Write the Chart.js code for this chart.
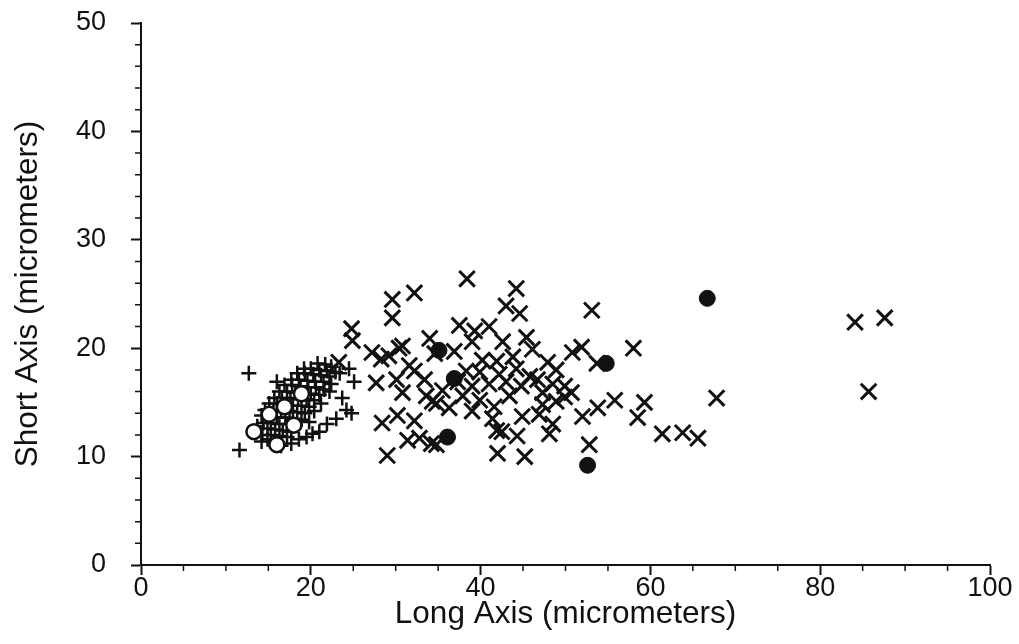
<!DOCTYPE html>
<html>
<head>
<meta charset="utf-8">
<script src="https://cdn.jsdelivr.net/npm/chart.js@4"></script>
<style>
  html, body { margin: 0; padding: 0; background: #ffffff; }
  #wrap { width: 1019px; height: 644px; }
</style>
</head>
<body>
<div id="wrap"><canvas id="c" width="1019" height="644"></canvas></div>
<script>
// ---- Data (micrometers) ----
const crossX = [38.4,32.2,29.6,29.6,44.2,43.0,44.6,53.1,24.8,24.9,23.3,27.2,28.3,29.2,30.4,30.8,31.6,27.7,30.1,30.8,
  32.2,33.4,33.6,34.3,28.4,30.2,32.2,31.4,32.8,34.2,29.0,34.0,34.6,37.5,39.3,41.0,39.0,42.6,45.4,46.1,
  36.9,40.2,41.9,43.8,47.9,48.9,38.3,39.9,42.2,44.2,45.8,46.7,37.3,39.0,41.0,43.0,44.8,48.5,49.9,35.5,
  37.9,39.9,43.4,47.3,34.8,36.3,39.0,41.6,47.3,48.9,41.4,44.9,46.9,48.5,41.9,42.5,44.3,48.1,34.8,42.0,
  45.2,50.8,51.9,53.7,58.0,67.8,50.7,49.9,55.8,53.8,52.0,59.3,58.5,61.4,63.8,65.6,52.8,84.1,87.6,85.7];
const crossY = [26.4,25.1,24.5,22.8,25.5,23.9,23.2,23.5,21.8,20.7,18.7,19.6,19.0,19.3,20.0,20.2,18.4,16.8,17.1,15.9,
  17.9,17.1,15.6,15.1,13.1,13.8,13.3,11.5,11.7,11.2,10.1,20.9,19.5,22.1,21.6,22.0,20.6,20.6,21.0,19.9,
  19.7,18.9,18.8,19.2,18.7,18.0,17.9,17.8,17.6,18.1,17.4,17.1,16.9,16.5,16.7,16.9,16.5,16.7,16.5,16.1,
  15.6,15.2,15.6,15.9,14.9,14.5,14.2,14.6,14.8,15.1,13.5,13.7,13.9,13.0,12.4,12.3,11.9,12.1,11.1,10.3,
  10.0,19.6,20.1,18.6,20.0,15.4,15.9,15.5,15.2,14.5,13.7,15.0,13.6,12.1,12.2,11.7,11.1,22.4,22.8,16.0];

const plusX = [12.7,11.6,25.1,24.5,23.7,24.2,24.8,23.0,21.9,21.0,20.2,19.5,18.6,17.7,16.5,14.9,14.3,
  20.8,21.7,22.4,19.2,20.0,21.0,21.9,22.9,18.4,19.3,20.3,21.2,22.2,23.4,17.7,18.6,19.6,20.5,21.5,22.4,
  16.9,17.8,18.8,19.7,20.6,21.6,16.3,17.2,18.2,19.1,20.0,21.0,22.2,15.7,16.6,17.6,18.5,19.5,20.4,
  15.1,16.0,17.0,17.9,18.9,19.8,21.2,14.6,15.6,16.5,17.5,18.4,19.3,20.4,14.2,15.1,16.0,17.0,17.9,18.9,
  14.4,15.3,16.3,17.2,18.2,19.8,14.9,15.8,16.7,17.7,15.3,16.3,17.2,16.0,13.7,14.2];
const plusY = [17.7,10.6,16.9,18.1,15.4,14.3,14.0,13.5,13.0,12.3,12.1,11.8,11.6,11.2,11.0,11.6,12.0,
  18.6,18.5,18.3,18.1,18.1,18.0,17.9,17.8,17.7,17.7,17.6,17.5,17.4,17.7,17.1,17.1,17.0,16.9,16.9,16.7,
  16.6,16.6,16.5,16.4,16.4,16.2,16.0,16.0,15.9,15.8,15.8,15.7,16.0,15.4,15.4,15.4,15.3,15.3,15.2,
  14.9,14.9,14.8,14.7,14.7,14.6,14.9,14.3,14.2,14.2,14.2,14.1,14.0,14.2,13.8,13.7,13.6,13.6,13.5,13.4,
  13.1,13.1,13.0,13.0,12.9,13.2,12.6,12.5,12.4,12.3,12.0,11.9,11.8,16.9,12.8,11.4];

const filledX = [35.1,36.9,36.1,54.8,66.7,52.6];
const filledY = [19.8,17.2,11.8,18.6,24.6,9.2];

const openX = [18.9,16.9,15.1,18.0,13.3,16.0];
const openY = [15.8,14.6,13.9,12.9,12.3,11.1];

const xTickStep = 20, xMinorStep = 5;
const yTickStep = 10, yMinorStep = 2;
const xTitle = 'Long Axis (micrometers)';
const yTitle = 'Short Axis (micrometers)';

const pts = (xs, ys) => xs.map((v, i) => ({ x: v, y: ys[i] }));

const INK = '#111111';
const FONT = "'Liberation Sans', Arial, Helvetica, sans-serif";

const minorTicks = {
  id: 'minorTicks',
  afterDraw(chart) {
    const { ctx, chartArea: a, scales: { x, y } } = chart;
    ctx.save();
    ctx.strokeStyle = INK;
    ctx.lineWidth = 1.5;
    ctx.beginPath();
    for (let v = x.min; v <= x.max; v += xMinorStep) {
      if (v % xTickStep === 0) continue;
      const px = x.getPixelForValue(v);
      ctx.moveTo(px, a.bottom);
      ctx.lineTo(px, a.bottom + 6);
    }
    for (let v = y.min; v <= y.max; v += yMinorStep) {
      if (v % yTickStep === 0) continue;
      const py = y.getPixelForValue(v);
      ctx.moveTo(a.left, py);
      ctx.lineTo(a.left - 6, py);
    }
    ctx.stroke();
    ctx.restore();
  }
};

new Chart(document.getElementById('c'), {
  type: 'scatter',
  data: {
    datasets: [
      { label: 'open', data: pts(openX, openY), pointStyle: 'circle', pointRadius: 7.5,
        backgroundColor: '#ffffff', borderColor: INK, borderWidth: 2.5 },
      { label: 'filled', data: pts(filledX, filledY), pointStyle: 'circle', pointRadius: 8,
        backgroundColor: INK, borderColor: INK, borderWidth: 1 },
      { label: 'plus', data: pts(plusX, plusY), pointStyle: 'cross', pointRadius: 7.5,
        backgroundColor: INK, borderColor: INK, borderWidth: 2.5 },
      { label: 'cross', data: pts(crossX, crossY), pointStyle: 'crossRot', pointRadius: 11,
        backgroundColor: INK, borderColor: INK, borderWidth: 3 }
    ]
  },
  options: {
    responsive: false,
    animation: false,
    layout: { padding: { top: 23, right: 29, bottom: 0, left: 0 } },
    plugins: { legend: { display: false }, tooltip: { enabled: false } },
    scales: {
      x: {
        type: 'linear', min: 0, max: 100,
        afterFit: (s) => { s.height = 79; s.paddingLeft = 0; s.paddingRight = 0; },
        ticks: { stepSize: xTickStep, color: INK, padding: -3, font: { family: FONT, size: 27 } },
        grid: { drawOnChartArea: false, drawTicks: true, tickLength: 10, tickWidth: 2, tickColor: INK },
        border: { display: true, color: INK, width: 2 },
        title: { display: true, text: xTitle, color: INK, font: { family: FONT, size: 31.5 },
                 padding: { top: 0, bottom: 11 } }
      },
      y: {
        type: 'linear', min: 0, max: 50,
        afterFit: (s) => { s.width = 141; s.paddingTop = 0; s.paddingBottom = 0; },
        ticks: { stepSize: yTickStep, color: INK, padding: 25, font: { family: FONT, size: 27 } },
        grid: { drawOnChartArea: false, drawTicks: true, tickLength: 10, tickWidth: 2, tickColor: INK },
        border: { display: true, color: INK, width: 2 },
        title: { display: true, text: yTitle, color: INK, font: { family: FONT, size: 31.5 },
                 padding: { top: 9, bottom: 9 } }
      }
    }
  },
  plugins: [minorTicks]
});
</script>
</body>
</html>
